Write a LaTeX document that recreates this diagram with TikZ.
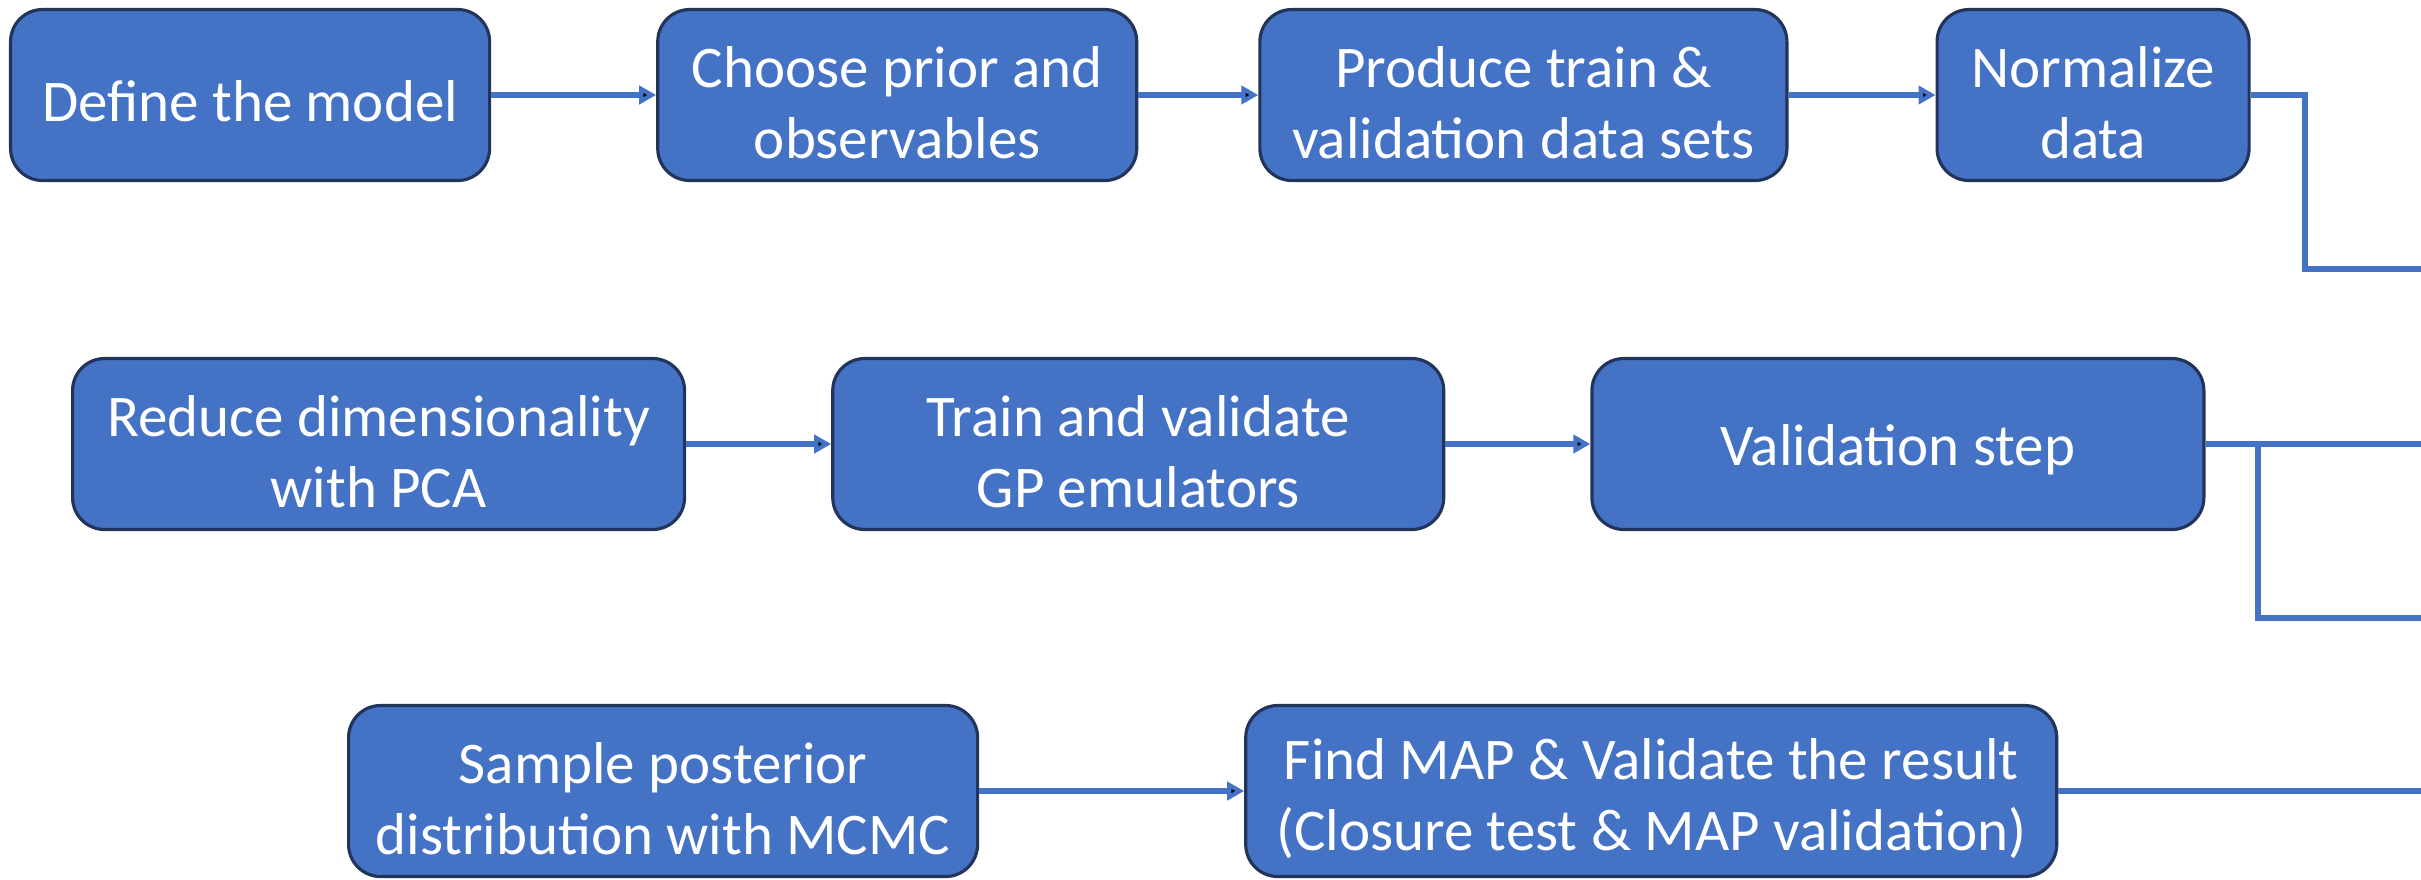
\documentclass[tikz,border=0pt]{standalone}
\usepackage{fontspec}
\setmainfont{Carlito}
\usetikzlibrary{positioning, arrows.meta}
\definecolor{boxblue}{HTML}{4472C4}
\definecolor{boxedge}{HTML}{223459}

\begin{document}
\begin{tikzpicture}[
  block/.style={draw=boxedge, line width=0.9pt, fill=boxblue, rounded corners=0.32cm,
    text=white, align=center, minimum height=1.71cm, inner sep=2pt,
    font=\fontsize{16.8}{20.2}\selectfont,
    execute at begin node={\rule{0pt}{15pt}}},
  twoline/.style={execute at begin node={\rule{0pt}{36pt}}},
  link/.style={draw=boxblue, line width=1.6pt},
  >={Triangle[length=0.17cm,width=0.18cm]}
]
\useasboundingbox (0,0) rectangle (24.21,-8.79);

% first row
\node[block,minimum width=4.79cm,anchor=west] (s1) at (0.09,-0.95) {Define the model};
\node[block,twoline,minimum width=4.79cm] (s2) [right=1.65cm of s1] {Choose prior and\\observables};
\node[block,twoline,minimum width=5.27cm] (s3) [right=1.20cm of s2] {Produce train \&\\validation data sets};
\node[block,twoline,minimum width=3.12cm] (s4) [right=1.47cm of s3] {Normalize\\data};

% second row
\node[block,twoline,minimum width=6.12cm,anchor=west] (s5) at (0.71,-4.44) {Reduce dimensionality\\with PCA};
\node[block,twoline,minimum width=6.11cm] (s6) [right=1.45cm of s5] {Train and validate\\GP emulators};
\node[block,minimum width=6.12cm] (s7) [right=1.45cm of s6] {Validation step};

% third row
\node[block,twoline,minimum width=6.29cm,anchor=west] (s8) at (3.47,-7.91) {Sample posterior\\distribution with MCMC};
\node[block,twoline,minimum width=8.11cm] (s9) [right=2.65cm of s8] {Find MAP \& Validate the result\\(Closure test \& MAP validation)};

\coordinate (c1) at (23.05,-2.69);
\coordinate (e1) at (24.21,-2.69);
\coordinate (e2) at (24.21,-4.44);
\coordinate (c3) at (22.58,-6.18);
\coordinate (e3) at (24.21,-6.18);
\coordinate (e4) at (24.21,-7.91);

\path[link,->]
(s1) edge (s2)
(s2) edge (s3)
(s3) edge (s4)
(s5) edge (s6)
(s6) edge (s7)
(s8) edge (s9);

\draw[link] (s4.east) -| (c1) -- (e1);
\draw[link] (s7) -- (e2);
\draw[link] (s7.east -| c3) -- (c3) -- (e3);
\draw[link] (s9) -- (e4);
\end{tikzpicture}
\end{document}
